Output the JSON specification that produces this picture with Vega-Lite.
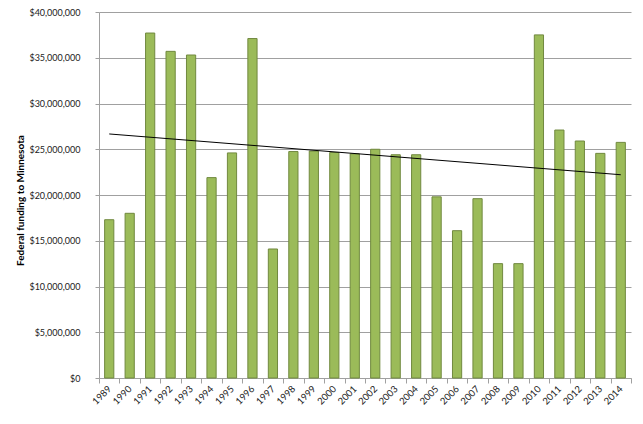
{
  "$schema": "https://vega.github.io/schema/vega-lite/v6.json",
  "width": 532,
  "height": 366,
  "autosize": {"type": "none"},
  "padding": {"left": 99, "top": 12, "right": 12, "bottom": 46},
  "background": "white",
  "config": {
    "font": "Lato",
    "view": {"stroke": null},
    "axis": {"labelFont": "Lato", "titleFont": "Lato"}
  },
  "data": {
    "values": [
      {"year": 1989, "amount": 17300000},
      {"year": 1990, "amount": 18000000},
      {"year": 1991, "amount": 37700000},
      {"year": 1992, "amount": 35700000},
      {"year": 1993, "amount": 35300000},
      {"year": 1994, "amount": 21900000},
      {"year": 1995, "amount": 24600000},
      {"year": 1996, "amount": 37100000},
      {"year": 1997, "amount": 14100000},
      {"year": 1998, "amount": 24750000},
      {"year": 1999, "amount": 24800000},
      {"year": 2000, "amount": 24650000},
      {"year": 2001, "amount": 24500000},
      {"year": 2002, "amount": 25000000},
      {"year": 2003, "amount": 24400000},
      {"year": 2004, "amount": 24400000},
      {"year": 2005, "amount": 19800000},
      {"year": 2006, "amount": 16100000},
      {"year": 2007, "amount": 19600000},
      {"year": 2008, "amount": 12500000},
      {"year": 2009, "amount": 12500000},
      {"year": 2010, "amount": 37500000},
      {"year": 2011, "amount": 27100000},
      {"year": 2012, "amount": 25900000},
      {"year": 2013, "amount": 24550000},
      {"year": 2014, "amount": 25750000}
    ]
  },
  "encoding": {
    "x": {
      "field": "year",
      "type": "ordinal",
      "scale": {"paddingInner": 0, "paddingOuter": 0},
      "axis": {
        "title": null,
        "labelAngle": -45,
        "labelAlign": "right",
        "labelBaseline": "middle",
        "labelFontSize": 9.5,
        "labelColor": "#222222",
        "labelPadding": 4,
        "tickBand": "extent",
        "tickSize": 5,
        "tickColor": "#A0A0A0",
        "domainColor": "#A0A0A0",
        "grid": false
      }
    },
    "y": {
      "field": "amount",
      "type": "quantitative",
      "scale": {"domain": [0, 40000000], "nice": false},
      "axis": {
        "title": "Federal funding to Minnesota",
        "titleFontSize": 10,
        "titleFontWeight": "bold",
        "titleColor": "#000000",
        "titleX": -74,
        "titleY": 188,
        "titleAngle": -90,
        "titleAlign": "center",
        "titleBaseline": "bottom",
        "format": "$,.0f",
        "values": [0, 5000000, 10000000, 15000000, 20000000, 25000000, 30000000, 35000000, 40000000],
        "labelFontSize": 9,
        "labelColor": "#222222",
        "labelPadding": 15,
        "tickSize": 4,
        "tickColor": "#A0A0A0",
        "domainColor": "#A0A0A0",
        "gridColor": "#A0A0A0",
        "grid": true
      }
    }
  },
  "layer": [
    {
      "mark": {
        "type": "bar",
        "width": {"band": 0.45},
        "fill": "#9BBB59",
        "stroke": "#71893F",
        "strokeWidth": 1
      }
    },
    {
      "transform": [{"regression": "amount", "on": "year"}],
      "mark": {"type": "line", "color": "#000000", "strokeWidth": 1}
    }
  ]
}
